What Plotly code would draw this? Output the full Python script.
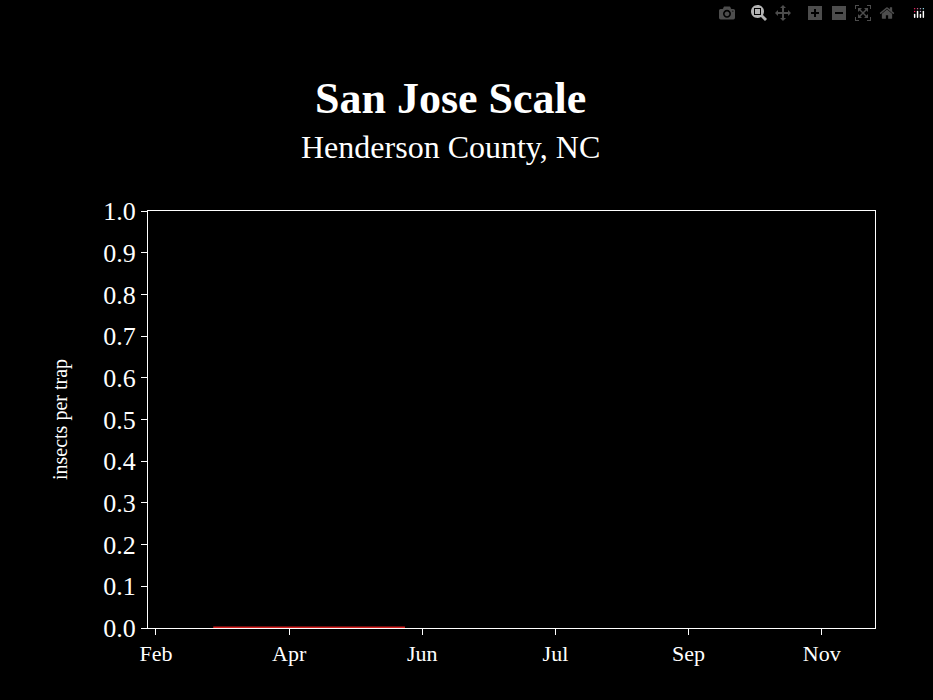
import plotly.graph_objects as go

tick_positions = [0, 1, 2, 3, 4, 5]
tick_labels = ["Feb", "Apr", "Jun", "Jul", "Sep", "Nov"]
sample_x = [0.43, 0.7, 0.95, 1.2, 1.45, 1.65, 1.87]
insects_per_trap = [0, 0, 0, 0, 0, 0, 0]

fig = go.Figure(go.Scatter(x=sample_x, y=insects_per_trap, mode="lines", cliponaxis=False,
                           line=dict(color="#d42020", width=3), showlegend=False))
F = "Liberation Serif"
L, R, T, B = 148, 58, 211, 72
pw, ph = 933 - L - R, 700 - T - B
def px(x): return (x - L) / pw
def py(y): return (700 - B - y) / ph
fig.update_layout(
    width=933, height=700, paper_bgcolor="black", plot_bgcolor="black",
    margin=dict(l=L, r=R, t=T, b=B),
    font=dict(family=F, color="white", size=22),
    annotations=[
        dict(text="<b>San Jose Scale</b>", x=px(450), y=py(72), xref="paper", yref="paper",
             showarrow=False, font=dict(size=44, family=F)),
        dict(text="Henderson County, NC", x=px(450), y=py(127), xref="paper", yref="paper",
             showarrow=False, font=dict(size=32, family=F)),
    ],
)
fig.update_xaxes(range=[-0.06, 5.4], tickvals=tick_positions, ticktext=tick_labels,
                 showgrid=False, zeroline=False, showline=True, linecolor="white", mirror=True,
                 ticks="outside", tickcolor="white", ticklen=6, tickfont=dict(size=22))
fig.update_yaxes(range=[0, 1.0], dtick=0.1, tickformat=".1f",
                 title=dict(text="insects per trap", font=dict(size=20, family=F), standoff=30),
                 showgrid=False, zeroline=False, showline=True, linecolor="white", mirror=True,
                 ticks="outside", tickcolor="white", ticklen=6, tickfont=dict(size=26))
fig.write_html("out.html")
with open("out.html") as f:
    html = f.read()
html = html.replace("<head>", "<head><style>html,body{margin:0;padding:0;background:black;}</style>", 1)
with open("out.html", "w") as f:
    f.write(html)
